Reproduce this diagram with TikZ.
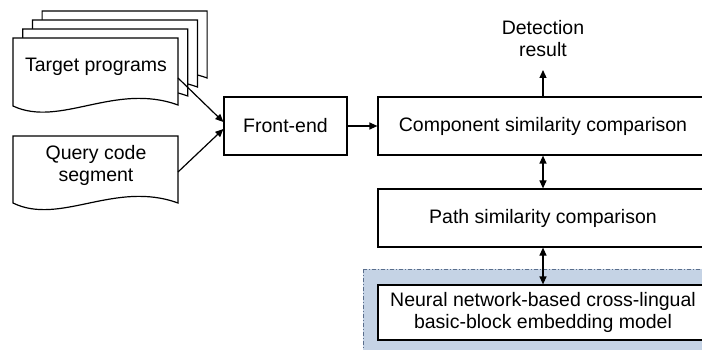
\documentclass[tikz,border=0pt]{standalone}
\usepackage{fontspec}
\setmainfont{Liberation Sans}
\usetikzlibrary{arrows.meta,calc}
\definecolor{regionblue}{RGB}{197,211,229}
\definecolor{regionedge}{RGB}{90,110,140}
\tikzset{
  boxstyle/.style={draw=black, line width=1.2pt, fill=white, inner sep=0pt, align=center},
  docstyle/.style={draw=black, line width=1.2pt, fill=white},
  txt/.style={inner sep=0pt, align=center},
  conn/.style={line width=1.2pt, -{Triangle[length=8pt,width=7pt]}},
  dconn/.style={line width=1.2pt, {Triangle[length=8pt,width=7pt]}-{Triangle[length=8pt,width=7pt]}},
}
\begin{document}
\begin{tikzpicture}[x=1pt,y=-1pt,font=\fontsize{19.5}{22}\selectfont]
\useasboundingbox (0,0) rectangle (702,350);
\clip (0,0) rectangle (702,350);
\fill[white] (0,0) rectangle (702,350);

% stacked target program documents (back to front)
\foreach \k in {3,2,1,0}{
  \begin{scope}[shift={(9.7*\k,-9*\k)}]
    \draw[docstyle] (13,38) -- (178,38) -- (178,105)
      .. controls (115,82) and (60,128) .. (13,106) -- cycle;
  \end{scope}
}
\node[txt] (tp) at (96,67) {Target programs};
\coordinate (tpout) at (178,78);

% query code segment document
\draw[docstyle] (13,136) -- (178,136) -- (178,203)
  .. controls (115,180) and (60,226) .. (13,203) -- cycle;
\node[txt] (qc) at (96,165) {Query code\\segment};
\coordinate (qcout) at (178,172);

% front-end
\node[boxstyle, minimum width=123pt, minimum height=58pt] (fe) at (285.5,126) {Front-end};

% blue region
\draw[fill=regionblue, draw=regionedge, line width=0.9pt,
      dash pattern=on 4pt off 2pt on 1pt off 2pt] (363,269) rectangle (740,380);

% right column boxes
\node[boxstyle, minimum width=330pt, minimum height=58pt] (comp) at (543,126) {Component similarity comparison};
\node[boxstyle, minimum width=330pt, minimum height=58pt] (path) at (543,218) {Path similarity comparison};
\node[boxstyle, minimum width=330pt, minimum height=55pt] (nn) at (543,312.5) {Neural network-based cross-lingual\\basic-block embedding model};

\node[txt] (det) at (543,38.5) {Detection\\result};
\coordinate (detin) at (543,70);

% connectors
\draw[conn] (tpout) -- ($(fe.west)+(0,-4)$);
\draw[conn] (qcout) -- ($(fe.west)+(0,3)$);
\draw[conn] (fe.east) -- (comp.west);
\draw[conn] (comp.north) -- (detin);
\draw[dconn] (comp.south) -- (path.north);
\draw[dconn] (path.south) -- (nn.north);
\end{tikzpicture}
\end{document}
